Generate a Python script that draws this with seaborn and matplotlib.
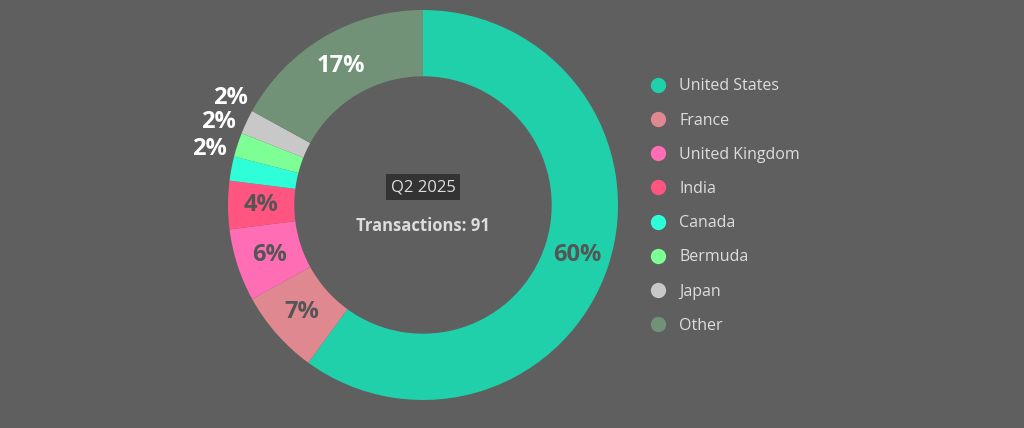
import matplotlib
matplotlib.use("Agg")

import matplotlib.pyplot as plt
import numpy as np
import seaborn as sns
from matplotlib.lines import Line2D

countries = ["United States", "France", "United Kingdom", "India",
             "Canada", "Bermuda", "Japan", "Other"]
shares = [60, 7, 6, 4, 2, 2, 2, 17]
colors = ["#20d0aa", "#e08890", "#ff6eb4", "#ff5580",
          "#2effd8", "#7dff96", "#c8c8c8", "#729278"]
quarter = "Q2 2025"
transactions = 91

BG = "#5f5f5f"
sns.set_theme(style="white")
plt.rcParams["font.family"] = ["Open Sans", "DejaVu Sans"]

fig = plt.figure(figsize=(10.24, 4.28), dpi=100, facecolor=BG)
ax = fig.add_axes([(423 - 195) / 1024, (428 - 205 - 195) / 428, 390 / 1024, 390 / 428])
ax.set_facecolor(BG)

wedges, _ = ax.pie(shares, colors=colors, startangle=90, counterclock=False,
                   wedgeprops=dict(width=0.34, linewidth=0))
ax.set_xlim(-1, 1)
ax.set_ylim(-1, 1)
ax.set_aspect("equal")
ax.axis("off")

for w, s in zip(wedges, shares):
    deg = (w.theta1 + w.theta2) / 2
    if s <= 2:
        ang = np.deg2rad(deg - 4)
        r, col = 1.13, "white"
    elif s == 17:
        ang = np.deg2rad(deg)
        r, col = 0.83, "white"
    else:
        ang = np.deg2rad(deg)
        r, col = 0.83, "#555555"
    ax.text(r * np.cos(ang), r * np.sin(ang), f"{s}%", ha="center", va="center",
            fontsize=17, fontweight="bold", color=col, clip_on=False)

ax.text(0, 0.09, quarter, ha="center", va="center", fontsize=12, color="#dddddd",
        bbox=dict(boxstyle="square,pad=0.3", facecolor="#333333", edgecolor="none"))
ax.text(0, -0.11, f"Transactions: {transactions}", ha="center", va="center",
        fontsize=12, fontweight="bold", color="#dddddd")

handles = [Line2D([0], [0], marker="o", linestyle="", markersize=11,
                  markerfacecolor=c, markeredgecolor="none") for c in colors]
fig.legend(handles, countries, loc="upper left", bbox_to_anchor=(628 / 1024, 1 - 64 / 428),
           frameon=False, fontsize=11.5, labelspacing=1.14, handletextpad=0.3,
           labelcolor="#dddddd")

fig.savefig("out.png", dpi=100, facecolor=BG)
